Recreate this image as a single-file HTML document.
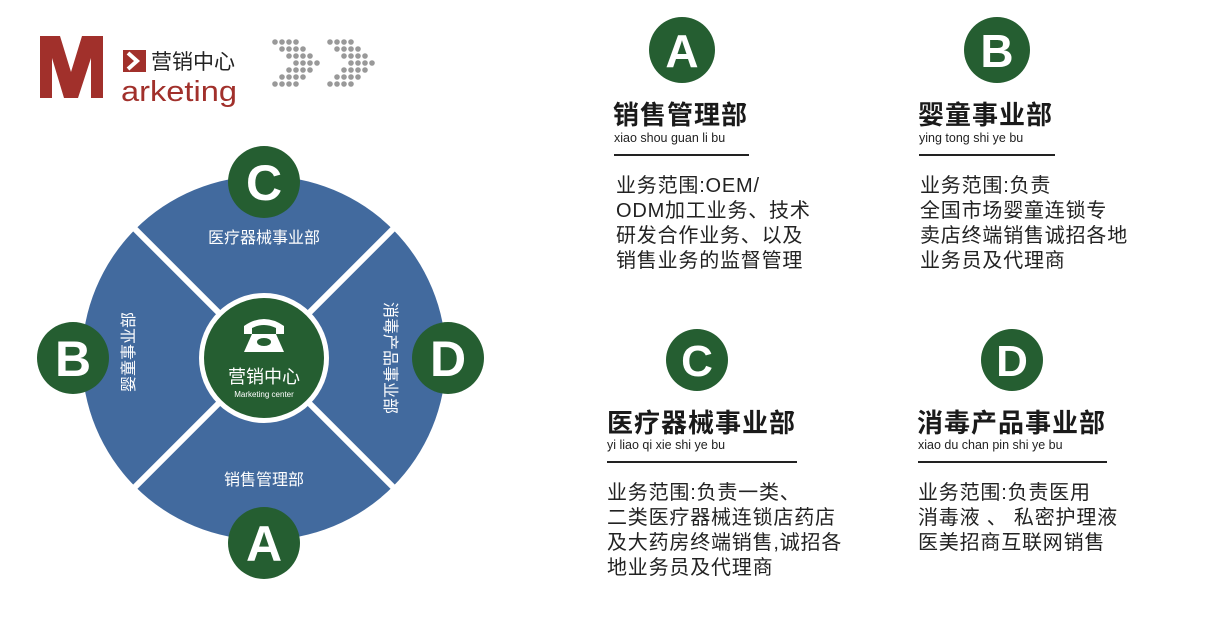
<!DOCTYPE html>
<html><head><meta charset="utf-8"><style>
body{margin:0;width:1210px;height:640px;background:#fff;position:relative;overflow:hidden;font-family:"Liberation Sans","Noto Sans CJK SC",sans-serif;}
.t{position:absolute;white-space:nowrap;color:#1a1a1a}
.title{font-size:26px;font-weight:bold;letter-spacing:1px;line-height:28px}
.py{font-size:12.5px;line-height:14px;color:#222}
.body{font-size:20px;line-height:25px;letter-spacing:0.8px;color:#222}
.ln{position:absolute;height:2px;background:#222}
</style></head><body>
<svg width="1210" height="640" style="position:absolute;left:0;top:0">
<path d="M40 36 L60 36 L71 72 L82 36 L103 36 L103 98 L91 98 L91 58 L78 98 L64 98 L52 58 L52 98 L40 98 Z" fill="#a1302b"/>
<rect x="123" y="50" width="23" height="22" fill="#a1302b"/>
<polyline points="128,53 137,61 128,69" fill="none" stroke="#fff" stroke-width="4"/>
<text x="151" y="69" font-family="Noto Sans CJK SC" font-size="21" fill="#222">营销中心</text>
<text x="121" y="101" font-family="Liberation Sans" font-size="29" fill="#a1302b" textLength="116" lengthAdjust="spacingAndGlyphs">arketing</text>
<g fill="#999">
<g id="chev">
<circle cx="275" cy="42" r="2.8"/><circle cx="282" cy="42" r="2.8"/><circle cx="289" cy="42" r="2.8"/><circle cx="296" cy="42" r="2.8"/>
<circle cx="282" cy="49" r="2.8"/><circle cx="289" cy="49" r="2.8"/><circle cx="296" cy="49" r="2.8"/><circle cx="303" cy="49" r="2.8"/>
<circle cx="289" cy="56" r="2.8"/><circle cx="296" cy="56" r="2.8"/><circle cx="303" cy="56" r="2.8"/><circle cx="310" cy="56" r="2.8"/>
<circle cx="296" cy="63" r="2.8"/><circle cx="303" cy="63" r="2.8"/><circle cx="310" cy="63" r="2.8"/><circle cx="317" cy="63" r="2.8"/>
<circle cx="289" cy="70" r="2.8"/><circle cx="296" cy="70" r="2.8"/><circle cx="303" cy="70" r="2.8"/><circle cx="310" cy="70" r="2.8"/>
<circle cx="282" cy="77" r="2.8"/><circle cx="289" cy="77" r="2.8"/><circle cx="296" cy="77" r="2.8"/><circle cx="303" cy="77" r="2.8"/>
<circle cx="275" cy="84" r="2.8"/><circle cx="282" cy="84" r="2.8"/><circle cx="289" cy="84" r="2.8"/><circle cx="296" cy="84" r="2.8"/>
</g>
<use href="#chev" x="55"/>
</g>
<circle cx="264" cy="358" r="182" fill="#426a9e"/>
<g stroke="#fff" stroke-width="6">
<line x1="128" y1="222" x2="400" y2="494"/>
<line x1="400" y1="222" x2="128" y2="494"/>
</g>
<circle cx="264" cy="358" r="65" fill="#fff"/>
<circle cx="264" cy="358" r="60" fill="#255e31"/>
<path d="M244 326 Q264 312 284 326 L284 334 L276 334 L276 328 Q264 322 252 328 L252 334 L244 334 Z" fill="#fff"/>
<path d="M252 334 L276 334 L284 352 L244 352 Z" fill="#fff"/>
<ellipse cx="264" cy="342" rx="7" ry="4" fill="#255e31"/>
<text x="264" y="383" text-anchor="middle" font-family="Noto Sans CJK SC" font-size="18" fill="#fff">营销中心</text>
<text x="264" y="397" text-anchor="middle" font-family="Liberation Sans" font-size="8" fill="#fff">Marketing center</text>
<g font-family="Noto Sans CJK SC" font-size="16" fill="#fff" text-anchor="middle">
<text x="264" y="243">医疗器械事业部</text>
<text x="264" y="485">销售管理部</text>
<text transform="translate(134,352) rotate(-90)">婴童事业部</text>
<text transform="translate(385,358) rotate(90)">消毒产品事业部</text>
</g>
<g fill="#255e31"><circle cx="264" cy="182" r="36"/><circle cx="73" cy="358" r="36"/><circle cx="264" cy="543" r="36"/><circle cx="448" cy="358" r="36"/>
<circle cx="682" cy="50" r="33"/><circle cx="997" cy="50" r="33"/><circle cx="697" cy="360" r="31"/><circle cx="1012" cy="360" r="31"/></g>
<g font-family="Liberation Sans" font-weight="bold" fill="#fff" text-anchor="middle" font-size="50">
<text x="264" y="200">C</text><text x="73" y="376">B</text><text x="264" y="561">A</text><text x="448" y="376">D</text>
<text x="682" y="67" font-size="46">A</text><text x="997" y="67" font-size="46">B</text><text x="697" y="376" font-size="44">C</text><text x="1012" y="376" font-size="44">D</text>
</g>
</svg>

<div class="t title" style="left:613px;top:101px">销售管理部</div>
<div class="t py" style="left:614px;top:131px">xiao shou guan li bu</div>
<div class="ln" style="left:614px;top:154px;width:135px"></div>
<div class="t body" style="left:616px;top:174px">业务范围:OEM/<br>ODM加工业务、技术<br>研发合作业务、以及<br>销售业务的监督管理</div>

<div class="t title" style="left:918px;top:101px">婴童事业部</div>
<div class="t py" style="left:919px;top:131px">ying tong shi ye bu</div>
<div class="ln" style="left:919px;top:154px;width:136px"></div>
<div class="t body" style="left:920px;top:174px">业务范围:负责<br>全国市场婴童连锁专<br>卖店终端销售诚招各地<br>业务员及代理商</div>

<div class="t title" style="left:607px;top:409px">医疗器械事业部</div>
<div class="t py" style="left:607px;top:438px">yi liao qi xie shi ye bu</div>
<div class="ln" style="left:607px;top:461px;width:190px"></div>
<div class="t body" style="left:607px;top:481px">业务范围:负责一类、<br>二类医疗器械连锁店药店<br>及大药房终端销售,诚招各<br>地业务员及代理商</div>

<div class="t title" style="left:917px;top:409px">消毒产品事业部</div>
<div class="t py" style="left:918px;top:438px">xiao du chan pin shi ye bu</div>
<div class="ln" style="left:918px;top:461px;width:189px"></div>
<div class="t body" style="left:918px;top:481px">业务范围:负责医用<br>消毒液 、 私密护理液<br>医美招商互联网销售</div>
</body></html>
